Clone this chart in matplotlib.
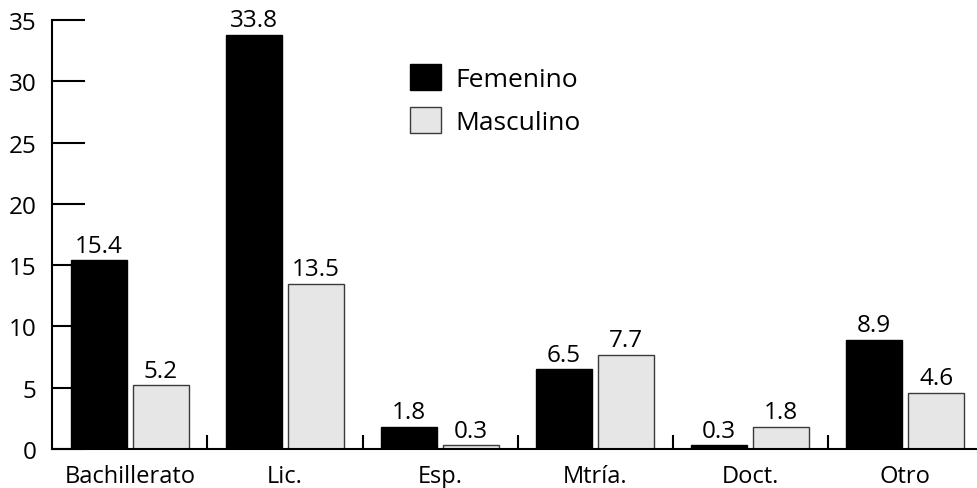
import numpy as np
import matplotlib
matplotlib.use("Agg")
import matplotlib.pyplot as plt

plt.rcParams['font.family'] = ['Open Sans', 'DejaVu Sans']

categorias = ['Bachillerato', 'Lic.', 'Esp.', 'Mtría.', 'Doct.', 'Otro']
femenino = [15.4, 33.8, 1.8, 6.5, 0.3, 8.9]
masculino = [5.2, 13.5, 0.3, 7.7, 1.8, 4.6]

x = np.arange(len(categorias))
w = 0.36

fig = plt.figure(figsize=(9.78, 4.89), dpi=100)
ax = fig.add_axes([52/978, 39/489, 926/978, 429/489])

b1 = ax.bar(x - 0.2, femenino, w, color='black', edgecolor='black', linewidth=1, label='Femenino')
b2 = ax.bar(x + 0.2, masculino, w, color='#e6e6e6', edgecolor='#3a3a3a', linewidth=1, label='Masculino')

for bars, vals in ((b1, femenino), (b2, masculino)):
    for r, v in zip(bars, vals):
        ax.text(r.get_x() + r.get_width()/2, v + 0.2, f'{v:.1f}', ha='center', va='bottom', fontsize=17.5)

ax.set_xlim(-0.503, 5.47)
ax.set_ylim(0, 35)
ax.set_yticks(range(0, 36, 5))
ax.tick_params(axis='y', direction='in', length=24, width=1.5, labelsize=17.5, pad=11)
ax.set_xticks(x)
ax.set_xticklabels(categorias, fontsize=17)
ax.tick_params(axis='x', which='major', length=0, pad=10.5)
ax.set_xticks(x[:-1] + 0.5, minor=True)
ax.tick_params(axis='x', which='minor', direction='in', length=10, width=1.5)

for s in ['top', 'right']:
    ax.spines[s].set_visible(False)
ax.spines['left'].set_linewidth(1.5)
ax.spines['bottom'].set_linewidth(1.5)

ax.legend(loc='upper left', bbox_to_anchor=(0.387, 0.897), frameon=False, fontsize=19,
          handlelength=1.15, handleheight=1.15, handletextpad=0.55, labelspacing=0.55,
          borderpad=0, borderaxespad=0)

fig.savefig('out.png', dpi=100)
